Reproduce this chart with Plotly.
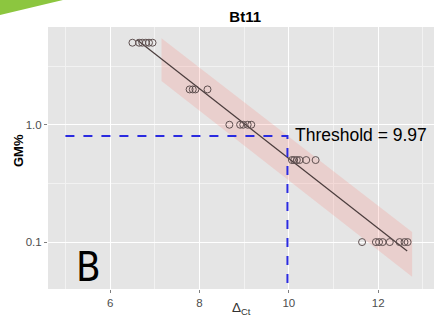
import numpy as np
import plotly.graph_objects as go

# ---- data ----
pts_x = [6.50, 6.65, 6.72, 6.80, 6.87, 6.95,
         7.78, 7.85, 7.91, 8.18,
         8.67, 8.91, 8.98, 9.08, 9.16,
         10.07, 10.12, 10.18, 10.24, 10.39, 10.60,
         11.64, 11.95, 12.02, 12.10, 12.26, 12.48, 12.59, 12.66]
pts_y = [5, 5, 5, 5, 5, 5,
         2, 2, 2, 2,
         1, 1, 1, 1, 1,
         0.5, 0.5, 0.5, 0.5, 0.5, 0.5,
         0.1, 0.1, 0.1, 0.1, 0.1, 0.1, 0.1, 0.1]

fit_x = [6.60, 12.65]
fit_y = [5.3, 0.084]

band_x = [7.15, 12.76]
band_upper = [5.45, 0.122]
band_lower = [2.36, 0.0506]

thr_x = 9.97
thr_y = 0.80
thr_x_start = 5.0
thr_label = "Threshold = 9.97"

x_ticks = [6, 8, 10, 12]
y_ticks = [0.1, 1.0]
y_tick_text = ["0.1", "1.0"]
x_minor = [5, 7, 9, 11, 13]
y_minor = [10 ** -1.5, 10 ** -0.5, 10 ** 0.5]

Y_LOG_RANGE = [-1.40, 0.833]

fig = go.Figure()

# ribbon
fig.add_trace(go.Scatter(
    x=band_x + band_x[::-1], y=band_upper + band_lower[::-1],
    fill="toself", fillcolor="rgba(248,118,109,0.2)",
    line=dict(width=0), mode="lines", hoverinfo="skip", showlegend=False))

# fitted line
fig.add_trace(go.Scatter(
    x=fit_x, y=fit_y, mode="lines",
    line=dict(color="#4a3c3c", width=1.2), showlegend=False))

# threshold dashed lines
fig.add_trace(go.Scatter(
    x=[thr_x_start, thr_x, thr_x], y=[thr_y, thr_y, 10 ** Y_LOG_RANGE[0]],
    mode="lines", line=dict(color="#2a2ae0", width=2, dash="dash"),
    showlegend=False))

# points
fig.add_trace(go.Scatter(
    x=pts_x, y=pts_y, mode="markers",
    marker=dict(symbol="circle-open", size=7, color="#5f5050",
                line=dict(width=1, color="#5f5050")),
    showlegend=False))

fig.add_annotation(x=thr_x, y=np.log10(thr_y), xref="x", yref="y",
                   text=thr_label, showarrow=False, xanchor="left",
                   xshift=6, yshift=1,
                   font=dict(family="Liberation Sans, Arial", size=17.5, color="black"))

fig.add_annotation(x=0.104, y=0.084, xref="paper", yref="paper",
                   text="B", showarrow=False, xanchor="center", yanchor="middle",
                   font=dict(family="Liberation Sans Narrow, DejaVu Sans Condensed, Arial",
                             size=40, color="black"))

# axis titles as annotations
fig.add_annotation(x=0.5, y=-0.074, xref="paper", yref="paper",
                   text="Δ<sub>Ct</sub>", showarrow=False, xanchor="center", yanchor="middle",
                   font=dict(family="Liberation Sans, Arial", size=13.5, color="#333333"))
fig.add_annotation(x=-0.078, y=0.53, xref="paper", yref="paper",
                   text="<b>GM%</b>", showarrow=False, textangle=-90,
                   xanchor="center", yanchor="middle",
                   font=dict(family="Liberation Sans, Arial", size=13, color="black"))

# green corner shape
fig.add_shape(type="path", xref="paper", yref="paper",
              path="M -0.125 1.1031 L 0.0388 1.1031 L -0.125 1.046 Z",
              fillcolor="#8cc63f", line=dict(width=0), layer="above")

fig.update_layout(
    width=434, height=321,
    margin=dict(l=48, r=0, t=27, b=32, autoexpand=False),
    paper_bgcolor="white", plot_bgcolor="#E5E5E5",
    title=dict(text="<b>Bt11</b>", x=0.565, xanchor="center", y=0.947, yanchor="middle",
               font=dict(family="Liberation Sans, Arial", size=15, color="black")),
    font=dict(family="Liberation Sans, Arial"),
)

fig.update_xaxes(
    range=[4.61, 13.25], tickvals=x_ticks, ticks="outside", ticklen=3,
    tickcolor="#7f7f7f", tickfont=dict(size=11.5, color="#4d4d4d"),
    showgrid=True, gridcolor="white", gridwidth=1.2, zeroline=False,
    minor=dict(tickvals=x_minor, showgrid=True, gridcolor="#F2F2F2", gridwidth=0.6),
    automargin=False, showline=False)

fig.update_yaxes(
    type="log", range=Y_LOG_RANGE, tickvals=y_ticks, ticktext=y_tick_text,
    ticks="outside", ticklen=3, tickcolor="#7f7f7f",
    tickfont=dict(size=11.5, color="#4d4d4d"),
    showgrid=True, gridcolor="white", gridwidth=1.2, zeroline=False,
    minor=dict(tickvals=y_minor, showgrid=True, gridcolor="#F2F2F2", gridwidth=0.6),
    automargin=False, showline=False)

fig.write_html(
    "out.html",
    config={"displayModeBar": False},
    post_script="document.body.style.margin='0';document.body.style.padding='0';"
                "document.body.style.overflow='hidden';",
)
